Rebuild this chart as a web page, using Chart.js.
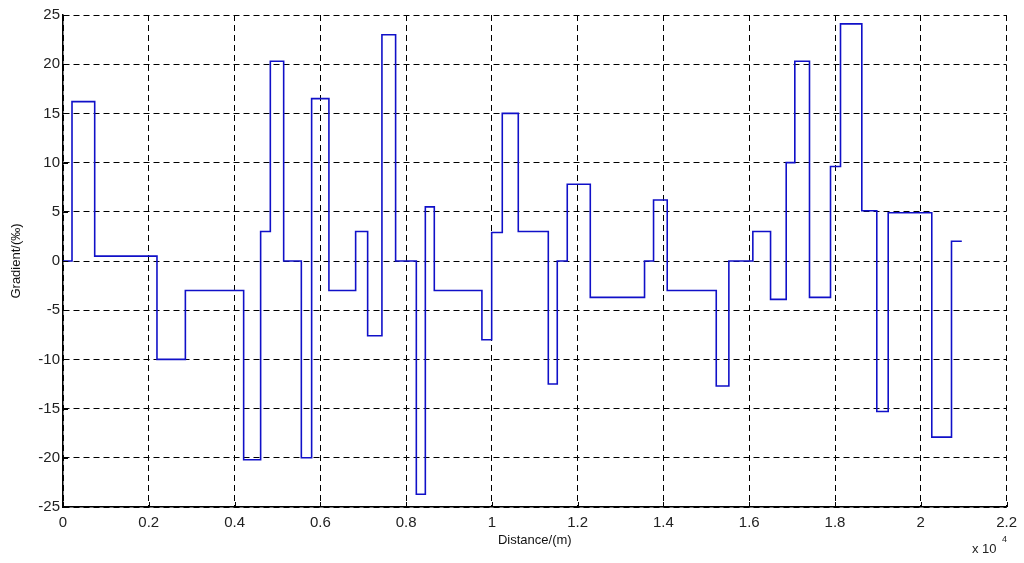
<!DOCTYPE html>
<html>
<head>
<meta charset="utf-8">
<script src="https://cdn.jsdelivr.net/npm/chart.js@4/dist/chart.umd.min.js"></script>
<style>
    html, body { margin: 0; padding: 0; background: #fff; }
    #wrap { width: 1024px; height: 563px; }
</style>
</head>
<body>
<div id="wrap"><canvas id="gradChart" width="1024" height="563"></canvas></div>
<script>
// ================= DATA =================
// start of each section along the line (m), last one is where the line ends
const distance = [0, 210, 739, 2191, 2853, 4212, 4608, 4834, 5145, 5557, 5797, 6200, 6823, 7103, 7436,
    7755, 8238, 8448, 8657, 9767, 9995, 10242, 10615, 11315, 11524, 11757, 12294, 13559, 13769, 14088,
    15231, 15525, 16084, 16497, 16862, 17063, 17405, 17895, 18128, 18625, 18974, 19240, 20256, 20716, 20956];
// gradient of each section (per mille)
const gradient = [0, 16.2, 0.5, -10, -3, -20.2, 3, 20.3, 0, -20, 16.5, -3, 3, -7.6, 23,
    0, -23.7, 5.5, -3, -8, 2.9, 15, 3, -12.5, 0, 7.8, -3.7, 0, 6.2, -3,
    -12.7, 0, 3, -3.9, 10, 20.3, -3.7, 9.6, 24.1, 5.1, -15.3, 4.9, -17.9, 2, 2];

const xTicks = [0, 2000, 4000, 6000, 8000, 10000, 12000, 14000, 16000, 18000, 20000, 22000];
const yTicks = [-25, -20, -15, -10, -5, 0, 5, 10, 15, 20, 25];

const FONT = "Arial, 'Liberation Sans', sans-serif";

// ================= INWARD TICKS + EXPONENT =================
const matlabAxes = {
    id: "matlabAxes",
    afterDraw(chart) {
        const { ctx, chartArea: a, scales } = chart;
        ctx.save();
        ctx.strokeStyle = "#000";
        ctx.lineWidth = 1;
        ctx.beginPath();
        xTicks.forEach(v => {
            const px = Math.round(scales.x.getPixelForValue(v)) + 0.5;
            ctx.moveTo(px, a.bottom);
            ctx.lineTo(px, a.bottom - 5);
        });
        yTicks.forEach(v => {
            const py = Math.round(scales.y.getPixelForValue(v)) + 0.5;
            ctx.moveTo(a.left, py);
            ctx.lineTo(a.left + 5, py);
        });
        ctx.stroke();

        ctx.fillStyle = "#222";
        ctx.textBaseline = "alphabetic";
        ctx.textAlign = "left";
        ctx.font = "13px " + FONT;
        ctx.fillText("x 10", 972, 553);
        ctx.font = "9px " + FONT;
        ctx.fillText("4", 1002, 542);
        ctx.restore();
    }
};

// ================= CHART =================
new Chart(document.getElementById("gradChart"), {
    type: "line",
    data: {
        datasets: [{
            data: distance.map((d, i) => ({ x: d, y: gradient[i] })),
            stepped: "before",
            borderColor: "#1010c8",
            borderWidth: 1.6,
            pointRadius: 0,
            fill: false
        }]
    },
    options: {
        responsive: false,
        animation: false,
        events: [],
        layout: { padding: { left: 0, right: 17, top: 15, bottom: 0 } },
        plugins: { legend: { display: false }, tooltip: { enabled: false } },
        scales: {
            x: {
                type: "linear",
                min: 0,
                max: 22000,
                afterFit: s => { s.height = 56; },
                afterBuildTicks: s => { s.ticks = xTicks.map(v => ({ value: v })); },
                grid: { color: "#000", lineWidth: 1, drawTicks: false },
                border: { color: "#000", width: 1.5, dash: [6, 4] },
                ticks: {
                    padding: 7,
                    color: "#222",
                    font: { family: FONT, size: 15 },
                    callback: v => String(parseFloat((v / 10000).toFixed(1)))
                },
                title: {
                    display: true,
                    text: "Distance/(m)",
                    color: "#111",
                    font: { family: FONT, size: 13 },
                    padding: { top: 0, bottom: 15 }
                }
            },
            y: {
                min: -25,
                max: 25,
                afterFit: s => { s.width = 63; },
                afterBuildTicks: s => { s.ticks = yTicks.map(v => ({ value: v })); },
                grid: { color: "#000", lineWidth: 1, drawTicks: false },
                border: { color: "#000", width: 1.5, dash: [6, 4] },
                ticks: {
                    padding: 3,
                    color: "#222",
                    font: { family: FONT, size: 15 }
                },
                title: {
                    display: true,
                    text: "Gradient/(‰)",
                    color: "#111",
                    font: { family: FONT, size: 13 },
                    padding: { top: 9, bottom: 0 }
                }
            }
        }
    },
    plugins: [matlabAxes]
});
</script>
</body>
</html>
